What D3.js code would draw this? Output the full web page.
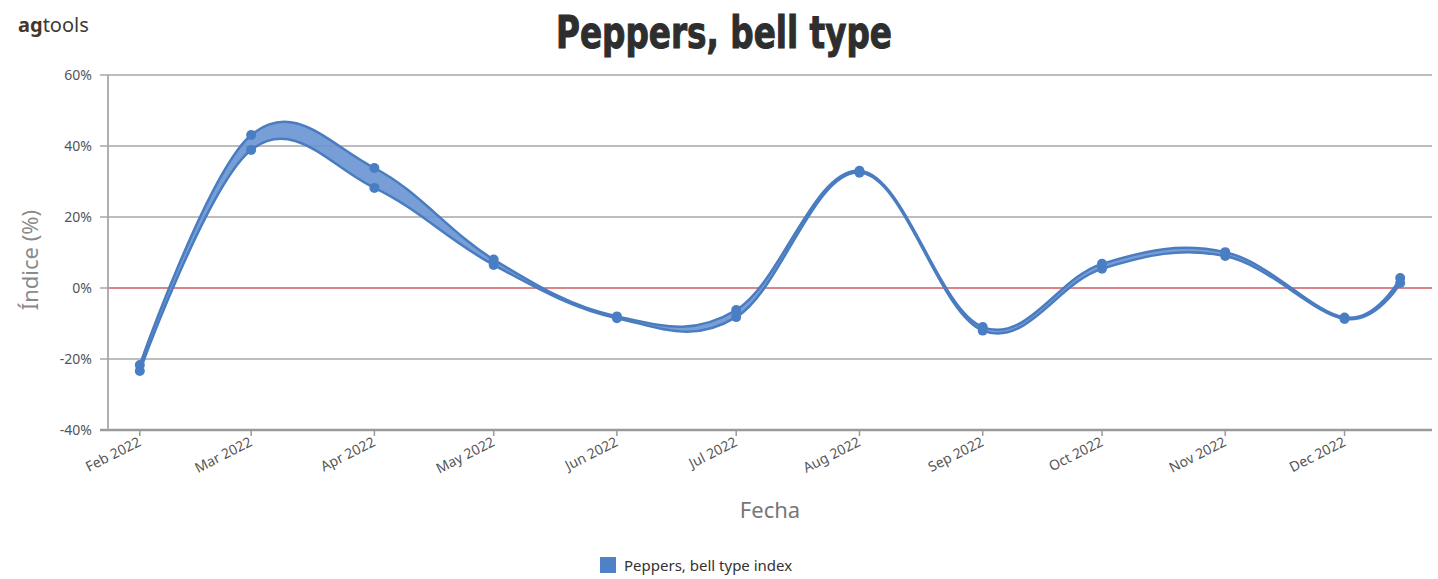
<!DOCTYPE html>
<html>
<head>
<meta charset="utf-8">
<script src="https://cdn.jsdelivr.net/npm/d3@7"></script>
<style>
  html, body { margin: 0; padding: 0; background: #ffffff; }
  svg text { font-family: "Noto Sans", "DejaVu Sans", sans-serif; }
</style>
</head>
<body>
<div id="chart"></div>
<script>
//
// Peppers, bell type index - area range spline
//
var dates = ["2022-02-01", "2022-03-01", "2022-04-01", "2022-05-01", "2022-06-01", "2022-07-01",
             "2022-08-01", "2022-09-01", "2022-10-01", "2022-11-01", "2022-12-01", "2022-12-15"];
var highVals = [-21.7, 43.1, 33.8, 8.0, -8.0, -6.2, 33.0, -11.0, 6.8, 10.1, -8.3, 2.8];
var lowVals  = [-23.4, 38.9, 28.2, 6.5, -8.5, -8.2, 32.5, -12.0, 5.4, 9.0, -8.7, 1.4];
var yTicks = [-40, -20, 0, 20, 40, 60];
var xTicks = ["2022-02-01", "2022-03-01", "2022-04-01", "2022-05-01", "2022-06-01", "2022-07-01",
              "2022-08-01", "2022-09-01", "2022-10-01", "2022-11-01", "2022-12-01"];
var monthNames = ["Jan", "Feb", "Mar", "Apr", "May", "Jun", "Jul", "Aug", "Sep", "Oct", "Nov", "Dec"];

var W = 1438, H = 579;
var pLeft = 108, pRight = 1432, pTop = 75, pBottom = 430;

var parse = d3.timeParse("%Y-%m-%d");
var data = dates.map(function (d, i) {
  return { date: parse(d), high: highVals[i], low: lowVals[i] };
});

var svg = d3.select('#chart').append('svg')
  .attr('width', W).attr('height', H);

var x = d3.scaleTime()
  .domain([parse("2022-01-24"), parse("2022-12-23")])
  .range([pLeft, pRight]);
var y = d3.scaleLinear().domain([-40, 60]).range([pBottom, pTop]);

// logo
var logo = svg.append('text').attr('x', 18).attr('y', 32)
  .attr('font-size', '20px').attr('fill', '#3a2e28');
logo.append('tspan').text('ag').attr('font-weight', 'bold').attr('fill', '#4a3426');
logo.append('tspan').text('tools').attr('fill', '#3a3a3a');

// title
svg.append('text')
  .attr('x', 724).attr('y', 48)
  .attr('text-anchor', 'middle')
  .attr('font-size', '44px')
  .attr('font-weight', 'bold')
  .style('font-family', "Impact, 'Liberation Sans Narrow', 'DejaVu Sans Condensed', sans-serif")
  .attr('fill', '#2e2e2e')
  .attr('stroke', '#2e2e2e').attr('stroke-width', 1)
  .attr('textLength', 336).attr('lengthAdjust', 'spacingAndGlyphs')
  .text('Peppers, bell type');

// grid lines
svg.append('g').selectAll('line').data(yTicks).enter().append('line')
  .attr('x1', pLeft - 8).attr('x2', pRight)
  .attr('y1', function (d) { return y(d); })
  .attr('y2', function (d) { return y(d); })
  .attr('stroke', function (d) { return d === -40 ? '#9a9a9a' : '#bdbdbd'; })
  .attr('stroke-width', function (d) { return d === -40 ? 2.5 : 1.8; });

// zero line
svg.append('line')
  .attr('x1', pLeft).attr('x2', pRight)
  .attr('y1', y(0)).attr('y2', y(0))
  .attr('stroke', '#d9868a').attr('stroke-width', 2);

// y axis line
svg.append('line')
  .attr('x1', pLeft).attr('x2', pLeft)
  .attr('y1', pTop).attr('y2', pBottom)
  .attr('stroke', '#a8a8a8').attr('stroke-width', 1.8);

// y tick labels
svg.append('g').selectAll('text').data(yTicks).enter().append('text')
  .attr('x', 92)
  .attr('y', function (d) { return y(d) + 5; })
  .attr('text-anchor', 'end')
  .attr('font-size', '14px')
  .attr('fill', '#555')
  .text(function (d) { return d + '%'; });

// y title
svg.append('text')
  .attr('transform', 'translate(38,260) rotate(-90)')
  .attr('text-anchor', 'middle')
  .attr('font-size', '22px')
  .attr('fill', '#8a8a8a')
  .text('Índice (%)');

// x ticks
var xg = svg.append('g');
xg.selectAll('line').data(xTicks).enter().append('line')
  .attr('x1', function (d) { return x(parse(d)); })
  .attr('x2', function (d) { return x(parse(d)); })
  .attr('y1', pBottom).attr('y2', pBottom + 6)
  .attr('stroke', '#999').attr('stroke-width', 1.5);
xg.selectAll('text').data(xTicks).enter().append('text')
  .attr('transform', function (d) {
    return 'translate(' + (x(parse(d)) + 2) + ',' + (pBottom + 15) + ') rotate(-27)';
  })
  .attr('text-anchor', 'end')
  .attr('font-size', '14px')
  .attr('fill', '#555')
  .text(function (d) {
    var t = parse(d);
    return monthNames[t.getMonth()] + ' ' + t.getFullYear();
  });

// x title
svg.append('text')
  .attr('x', 770).attr('y', 518)
  .attr('text-anchor', 'middle')
  .attr('font-size', '22px')
  .attr('fill', '#777')
  .text('Fecha');

// band
var curve = d3.curveCardinal.tension(-0.1);
var area = d3.area()
  .x(function (d) { return x(d.date); })
  .y0(function (d) { return y(d.low); })
  .y1(function (d) { return y(d.high); })
  .curve(curve);
var lineHigh = d3.line()
  .x(function (d) { return x(d.date); })
  .y(function (d) { return y(d.high); })
  .curve(curve);
var lineLow = d3.line()
  .x(function (d) { return x(d.date); })
  .y(function (d) { return y(d.low); })
  .curve(curve);

svg.append('path').datum(data)
  .attr('d', area)
  .attr('fill', '#6893d2').attr('fill-opacity', 0.9);
svg.append('path').datum(data)
  .attr('d', lineHigh)
  .attr('fill', 'none').attr('stroke', '#4a7cc0').attr('stroke-width', 2.5);
svg.append('path').datum(data)
  .attr('d', lineLow)
  .attr('fill', 'none').attr('stroke', '#4a7cc0').attr('stroke-width', 2.5);

// markers
var markers = svg.append('g');
markers.selectAll('circle.h').data(data).enter().append('circle')
  .attr('class', 'h')
  .attr('cx', function (d) { return x(d.date); })
  .attr('cy', function (d) { return y(d.high); })
  .attr('r', 5).attr('fill', '#4a7ec4');
markers.selectAll('circle.l').data(data).enter().append('circle')
  .attr('class', 'l')
  .attr('cx', function (d) { return x(d.date); })
  .attr('cy', function (d) { return y(d.low); })
  .attr('r', 5).attr('fill', '#4a7ec4');

// legend
svg.append('rect')
  .attr('x', 600).attr('y', 557).attr('width', 16).attr('height', 16)
  .attr('fill', '#4f81c7');
svg.append('text')
  .attr('x', 624).attr('y', 571)
  .attr('font-size', '15px')
  .attr('fill', '#333')
  .text('Peppers, bell type index');
</script>
</body>
</html>
